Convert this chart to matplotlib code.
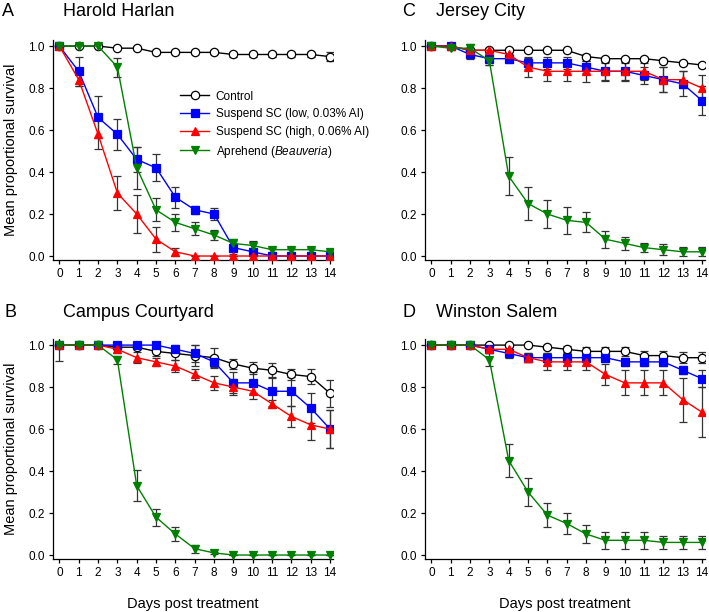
import matplotlib
matplotlib.use("Agg")
import matplotlib.pyplot as plt
import numpy as np

plt.rcParams['font.family'] = ['Liberation Sans', 'DejaVu Sans']
plt.rcParams['mathtext.fontset'] = 'custom'
plt.rcParams['mathtext.it'] = 'Liberation Sans:italic'
plt.rcParams['mathtext.rm'] = 'Liberation Sans'

days = list(range(15))
series_names = ["Control", "Suspend SC (low, 0.03% AI)",
                "Suspend SC (high, 0.06% AI)", r"Aprehend ($\it{Beauveria}$)"]
panel_letters = ["A", "C", "B", "D"]
site_names = ["Harold Harlan", "Jersey City", "Campus Courtyard", "Winston Salem"]

# Harold Harlan
hh_control = [1.0, 1.0, 1.0, 0.99, 0.99, 0.97, 0.97, 0.97, 0.97, 0.96, 0.96, 0.96, 0.96, 0.96, 0.95]
hh_control_err = [0, 0, 0, 0.005, 0.005, 0.01, 0.01, 0.01, 0.01, 0.01, 0.01, 0.01, 0.01, 0.01, 0.02]
hh_low = [1.0, 0.88, 0.66, 0.58, 0.46, 0.42, 0.28, 0.22, 0.20, 0.04, 0.02, 0, 0, 0, 0]
hh_low_err = [0, 0.07, 0.10, 0.075, 0.06, 0.065, 0.05, 0.02, 0.03, 0.03, 0.02, 0, 0, 0, 0]
hh_high = [1.0, 0.84, 0.58, 0.30, 0.20, 0.08, 0.02, 0, 0, 0, 0, 0, 0, 0, 0]
hh_high_err = [0, 0.03, 0.07, 0.08, 0.09, 0.06, 0.02, 0, 0, 0, 0, 0, 0, 0, 0]
hh_apr = [1.0, 1.0, 1.0, 0.90, 0.42, 0.22, 0.16, 0.13, 0.10, 0.06, 0.05, 0.03, 0.03, 0.03, 0.02]
hh_apr_err = [0, 0, 0, 0.045, 0.10, 0.055, 0.04, 0.03, 0.025, 0.02, 0.02, 0.01, 0.01, 0.01, 0.01]

# Jersey City
jc_control = [1.0, 1.0, 0.98, 0.98, 0.98, 0.98, 0.98, 0.98, 0.95, 0.94, 0.94, 0.94, 0.93, 0.92, 0.91]
jc_control_err = [0, 0, 0.01, 0.01, 0.01, 0.01, 0.01, 0.01, 0.01, 0.01, 0.01, 0.01, 0.01, 0.01, 0.01]
jc_low = [1.0, 1.0, 0.96, 0.94, 0.94, 0.92, 0.92, 0.92, 0.90, 0.88, 0.88, 0.86, 0.84, 0.82, 0.74]
jc_low_err = [0, 0, 0.02, 0.03, 0.02, 0.03, 0.03, 0.03, 0.03, 0.04, 0.04, 0.04, 0.06, 0.06, 0.07]
jc_high = [1.0, 1.0, 0.98, 0.98, 0.96, 0.90, 0.88, 0.88, 0.88, 0.88, 0.88, 0.88, 0.84, 0.84, 0.80]
jc_high_err = [0, 0, 0.01, 0.01, 0.02, 0.045, 0.045, 0.045, 0.05, 0.045, 0.045, 0.04, 0.06, 0.04, 0.06]
jc_apr = [1.0, 0.99, 0.99, 0.93, 0.38, 0.25, 0.20, 0.17, 0.16, 0.08, 0.06, 0.04, 0.03, 0.02, 0.02]
jc_apr_err = [0, 0.01, 0.02, 0.02, 0.09, 0.08, 0.065, 0.063, 0.048, 0.04, 0.03, 0.02, 0.025, 0.022, 0.022]

# Campus Courtyard
cc_control = [1.0, 1.0, 1.0, 0.99, 0.99, 0.97, 0.96, 0.95, 0.94, 0.91, 0.89, 0.88, 0.86, 0.85, 0.77]
cc_control_err = [0.076, 0, 0, 0.01, 0.01, 0.02, 0.03, 0.05, 0.045, 0.025, 0.03, 0.035, 0.025, 0.035, 0.065]
cc_low = [1.0, 1.0, 1.0, 1.0, 1.0, 1.0, 0.98, 0.96, 0.92, 0.82, 0.82, 0.78, 0.78, 0.70, 0.60]
cc_low_err = [0, 0, 0, 0, 0, 0, 0.02, 0.04, 0.03, 0.05, 0.05, 0.07, 0.07, 0.07, 0.09]
cc_high = [1.0, 1.0, 1.0, 0.98, 0.94, 0.92, 0.90, 0.86, 0.82, 0.80, 0.78, 0.72, 0.66, 0.62, 0.60]
cc_high_err = [0, 0, 0, 0.02, 0.025, 0.02, 0.03, 0.025, 0.035, 0.04, 0.035, 0.02, 0.05, 0.07, 0.09]
cc_apr = [1.0, 1.0, 1.0, 0.93, 0.33, 0.18, 0.10, 0.03, 0.01, 0, 0, 0, 0, 0, 0]
cc_apr_err = [0, 0, 0, 0.02, 0.073, 0.04, 0.033, 0.02, 0.005, 0, 0, 0, 0, 0, 0]

# Winston Salem
ws_control = [1.0, 1.0, 1.0, 1.0, 1.0, 1.0, 0.99, 0.98, 0.97, 0.97, 0.97, 0.95, 0.95, 0.94, 0.94]
ws_control_err = [0, 0, 0, 0, 0, 0, 0.01, 0.015, 0.02, 0.02, 0.02, 0.02, 0.02, 0.025, 0.025]
ws_low = [1.0, 1.0, 1.0, 0.98, 0.96, 0.94, 0.94, 0.94, 0.94, 0.94, 0.92, 0.92, 0.92, 0.88, 0.84]
ws_low_err = [0, 0, 0, 0.02, 0.02, 0.02, 0.02, 0.02, 0.02, 0.02, 0.02, 0.02, 0.02, 0.02, 0.04]
ws_high = [1.0, 1.0, 1.0, 0.98, 0.98, 0.94, 0.92, 0.92, 0.92, 0.86, 0.82, 0.82, 0.82, 0.74, 0.68]
ws_high_err = [0, 0, 0, 0.01, 0.01, 0.02, 0.04, 0.04, 0.04, 0.05, 0.06, 0.06, 0.06, 0.105, 0.12]
ws_apr = [1.0, 1.0, 1.0, 0.93, 0.45, 0.30, 0.19, 0.15, 0.10, 0.07, 0.07, 0.07, 0.06, 0.06, 0.06]
ws_apr_err = [0, 0, 0, 0.03, 0.08, 0.065, 0.058, 0.048, 0.042, 0.04, 0.04, 0.04, 0.03, 0.03, 0.03]

sites = [
    [(hh_control, hh_control_err), (hh_low, hh_low_err), (hh_high, hh_high_err), (hh_apr, hh_apr_err)],
    [(jc_control, jc_control_err), (jc_low, jc_low_err), (jc_high, jc_high_err), (jc_apr, jc_apr_err)],
    [(cc_control, cc_control_err), (cc_low, cc_low_err), (cc_high, cc_high_err), (cc_apr, cc_apr_err)],
    [(ws_control, ws_control_err), (ws_low, ws_low_err), (ws_high, ws_high_err), (ws_apr, ws_apr_err)],
]

styles = [
    dict(color="black", marker="o", mfc="white", mec="black"),
    dict(color="#0000FF", marker="s", mfc="#0000FF", mec="#0000FF"),
    dict(color="#FF0000", marker="^", mfc="#FF0000", mec="#FF0000"),
    dict(color="#008000", marker="v", mfc="#008000", mec="#008000"),
]

W, H = 709, 612
fig = plt.figure(figsize=(W / 100, H / 100), dpi=100)

# axes boxes in pixels: (left, top, right, bottom)
boxes = [(53, 40, 333, 260), (425, 40, 705, 260), (53, 339, 333, 559), (425, 339, 705, 559)]
title_base = [16.5, 16.5, 316.5, 316.5]
letter_x = [2, 402, 5, 402]
name_x = [63, 436, 63, 436]

for i, (box, data) in enumerate(zip(boxes, sites)):
    l, t, r, b = box
    ax = fig.add_axes([l / W, 1 - b / H, (r - l) / W, (b - t) / H])
    for j, ((vals, errs), st) in enumerate(zip(data, styles)):
        ax.errorbar(days, vals, yerr=errs, fmt="none", ecolor="#333333",
                    elinewidth=0.9, capsize=3.2, capthick=0.9, zorder=2)
    for j in [1, 2, 3, 0]:
        vals, errs = data[j]
        st = styles[j]
        ax.plot(days, vals, color=st["color"], lw=1.0, marker=st["marker"],
                ms=6, mfc=st["mfc"], mec=st["mec"], mew=0.9, zorder=3 + j * 0.1,
                label=series_names[j])
    ax.set_xlim(-0.33, 14.15)
    ax.set_ylim(-0.019, 1.029)
    ax.set_xticks(days)
    ax.set_yticks([0, 0.2, 0.4, 0.6, 0.8, 1.0])
    ax.set_yticklabels(["0.0", "0.2", "0.4", "0.6", "0.8", "1.0"])
    for s in ["top", "right"]:
        ax.spines[s].set_visible(False)
    for s in ["left", "bottom"]:
        ax.spines[s].set_linewidth(0.9)
    ax.tick_params(axis="both", direction="out", length=3, width=0.9, labelsize=8.5, pad=3)
    if i in (0, 2):
        ax.set_ylabel("Mean proportional survival", fontsize=10.5, va="center")
        ax.yaxis.set_label_coords(-42.0 / 280, 0.5)
    if i in (2, 3):
        ax.set_xlabel("Days post treatment", fontsize=10.5, labelpad=13)
    fig.text(letter_x[i] / W, 1 - title_base[i] / H, panel_letters[i], fontsize=13,
             ha="left", va="baseline")
    fig.text(name_x[i] / W, 1 - title_base[i] / H, site_names[i], fontsize=13,
             ha="left", va="baseline")
    if i == 0:
        hs, ls = ax.get_legend_handles_labels()
        order = [3, 0, 1, 2]
        ax.legend([hs[k] for k in order], [ls[k] for k in order],
                  loc="upper left", bbox_to_anchor=(0.455, 0.77), frameon=False,
                  fontsize=8.5, numpoints=1, handlelength=2.4, handletextpad=0.6,
                  labelspacing=0.48, borderaxespad=0, borderpad=0)

fig.savefig("out.png", dpi=100)
